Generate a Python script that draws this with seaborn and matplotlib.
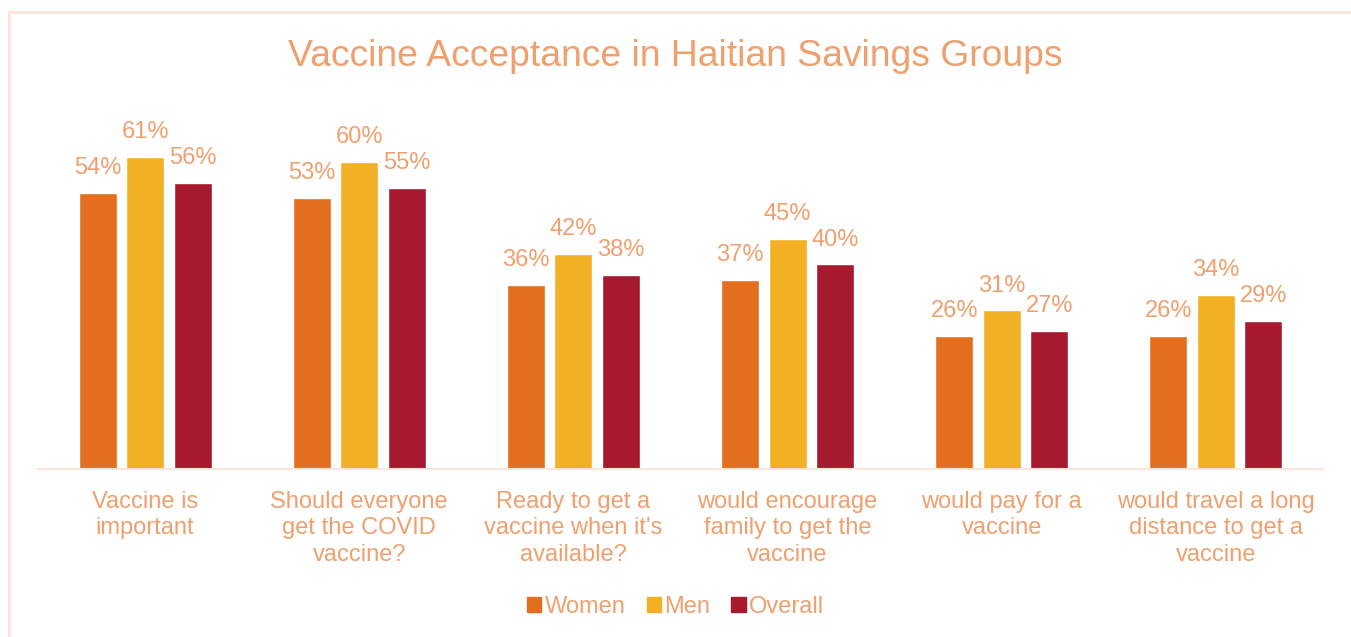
import matplotlib
matplotlib.use("Agg")
import matplotlib.pyplot as plt
import seaborn as sns
import pandas as pd
from matplotlib.patches import Rectangle

categories = [
    "Vaccine is\nimportant",
    "Should everyone\nget the COVID\nvaccine?",
    "Ready to get a\nvaccine when it's\navailable?",
    "would encourage\nfamily to get the\nvaccine",
    "would pay for a\nvaccine",
    "would travel a long\ndistance to get a\nvaccine",
]
women = [54, 53, 36, 37, 26, 26]
men = [61, 60, 42, 45, 31, 34]
overall = [56, 55, 38, 40, 27, 29]
series_names = ["Women", "Men", "Overall"]
colors = ["#E36F1E", "#F2B124", "#A6192E"]
text_color = "#F0A06E"
line_color = "#FBE5D8"

rows = []
for name, vals in zip(series_names, [women, men, overall]):
    for c, v in zip(categories, vals):
        rows.append({"category": c, "group": name, "value": v})
df = pd.DataFrame(rows)

sns.set_theme(style="white")
plt.rcParams["font.family"] = ["Liberation Sans", "DejaVu Sans"]

fig = plt.figure(figsize=(13.51, 6.37), dpi=100)
ax = fig.add_axes([38 / 1351, 168 / 637, (1323 - 38) / 1351, 358 / 637])

sns.barplot(data=df, x="category", y="value", hue="group", order=categories,
            hue_order=series_names, palette=colors, width=0.666, gap=0.2,
            saturation=1, ax=ax, legend=True)

for cont in ax.containers:
    ax.bar_label(cont, labels=[f"{int(round(v))}%" for v in cont.datavalues],
                 padding=10, color=text_color, fontsize=17)

ax.set_ylim(0, 70)
ax.set_xlim(-0.5, len(categories) - 0.5)
ax.set_xlabel("")
ax.set_ylabel("")
ax.set_yticks([])
for s in ["left", "right", "top"]:
    ax.spines[s].set_visible(False)
ax.spines["bottom"].set_color(line_color)
ax.spines["bottom"].set_linewidth(1.5)
ax.tick_params(axis="x", length=0, pad=16, labelsize=17, labelcolor=text_color)
for t in ax.get_xticklabels():
    t.set_linespacing(1.25)

ax.legend_.remove()
handles = [Rectangle((0, 0), 1, 1, color=c) for c in colors]
leg = fig.legend(handles, series_names, loc="center", bbox_to_anchor=(0.5, 30 / 637),
                 ncol=3, frameon=False, fontsize=17, handlelength=0.6, handleheight=0.6,
                 handletextpad=0.15, columnspacing=0.9)
for t in leg.get_texts():
    t.set_color(text_color)

fig.text(0.5, 1 - 57 / 637, "Vaccine Acceptance in Haitian Savings Groups",
         ha="center", va="center", fontsize=26.8, color=text_color)

fig.patches.append(Rectangle((9 / 1351, -0.1), 1.2, 1 - 12 / 637 + 0.1,
                             transform=fig.transFigure, fill=False,
                             edgecolor=line_color, linewidth=2))

fig.savefig("out.png", dpi=100)
